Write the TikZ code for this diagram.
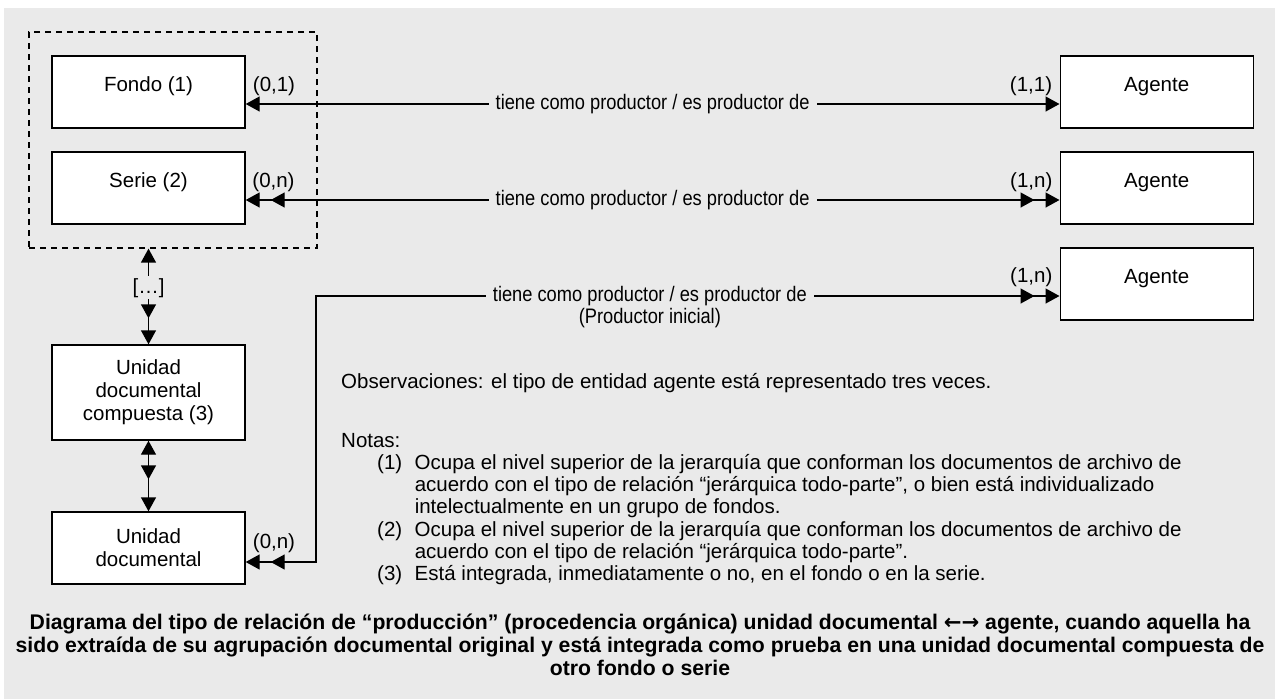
\documentclass[tikz,border=0pt]{standalone}
\usepackage{fontspec}
\setmainfont{Liberation Sans}
\newfontfamily\narrowfont[FakeStretch=0.87]{Liberation Sans}
\newfontfamily\arrowfont{DejaVu Sans}
\usetikzlibrary{arrows.meta,decorations.markings,positioning}
\definecolor{bggrey}{HTML}{EAEAEA}
\newcommand\fsbody{\fontsize{20.5}{23}\selectfont}
\newcommand\fsrel{\narrowfont\fontsize{21}{22}\selectfont}
\newcommand\fscap{\fontsize{21.2}{23}\selectfont\bfseries}
\newcommand\lift[1]{\raisebox{5.5pt}[\height][\depth]{#1}}
\tikzset{
  ah/.tip={Triangle[length=14pt,width=15pt]},
  box/.style={draw, fill=white, line width=1.4pt, minimum width=193pt, minimum height=72pt, inner sep=2pt, font=\fsbody, align=center},
  grpbox/.style={draw, dash pattern=on 6pt off 5pt, line width=1.3pt, minimum width=288pt, minimum height=216pt},
  link/.style={line width=1.4pt},
  rel/.style={fill=bggrey, inner xsep=7pt, inner ysep=1pt, font=\fsrel, align=center},
  card/.style={inner sep=1pt, font=\fsbody},
  dots/.style={fill=bggrey, inner xsep=1pt, inner ysep=2pt, font=\fsbody},
  dblend/.style={postaction={decorate, decoration={markings, mark=at position -#1 with {\arrow{ah}}}}},
  dblend/.default=25pt,
  dblstart/.style={postaction={decorate, decoration={markings, mark=at position #1 with {\arrowreversed{ah}}}}},
  dblstart/.default=25pt
}
\begin{document}
\begin{tikzpicture}[x=1pt, y=-1pt]
\useasboundingbox (0,0) rectangle (1275,699);
\fill[bggrey] (4,8) rectangle (1275,699);
% left column
\node[grpbox] (grp) at (173,140) {};
\node[box] (fondo) at (148.5,92) {\lift{Fondo (1)}};
\node[box] (serie) at (148.5,188) {\lift{Serie (2)}};
\node[box, minimum height=95pt] (comp) at (148.5,392.5) {Unidad\\documental\\compuesta (3)};
\node[box] (unid) at (148.5,548) {Unidad\\documental};
% agents
\foreach \i/\y in {1/92, 2/188, 3/284}
  \node[box] (ag\i) at (1156.7,\y) {\lift{Agente}};
% relations
\draw[link, ah-ah] ([yshift=-12pt]fondo.east) -- node[rel] (rel1) {tiene como productor / es productor de} ([yshift=-12pt]ag1.west);
\draw[link, ah-ah, dblstart, dblend] ([yshift=-12pt]serie.east) -- node[rel] (rel2) {tiene como productor / es productor de} ([yshift=-12pt]ag2.west);
\coordinate (turn) at (316,296);
\draw[link, ah-ah, dblstart, dblend] ([yshift=-14pt]unid.east) -| (turn)
  -- node[rel, pos=0.449, anchor=north, yshift=11pt] (rel3) {tiene como productor / es productor de\\(Productor inicial)} ([yshift=-12pt]ag3.west);
\draw[link, ah-ah, dblend=26pt] (comp.north |- grp.south) -- node[dots, pos=0.41] (etc) {[…]} (comp.north);
\draw[link, ah-ah, dblend=32pt] (comp.south) -- (unid.north);
% cardinalities
\foreach \n/\x/\y/\t in {c1/274/86/{(0,1)}, c2/273.5/182/{(0,n)}, c3/274/543.5/{(0,n)},
    c4/1031/86/{(1,1)}, c5/1031.3/182.5/{(1,n)}, c6/1031.3/277.5/{(1,n)}}
  \node[card] (\n) at (\x,\y) {\t};
% remarks
\node[anchor=base west, inner sep=0pt, font=\fsbody] (obs) at (341,388) {Observaciones: el tipo de entidad agente está representado tres veces.};
\node[anchor=base west, inner sep=0pt, font=\fsbody] (notas) at (341,447) {Notas:};
\node[anchor=north west, inner sep=0pt, font=\fontsize{20.5}{22.2}\selectfont] (notes) at (377,453.8) {%
  \begin{tabular}{@{}l@{\hspace{12.5pt}}l@{}}
  (1) & Ocupa el nivel superior de la jerarquía que conforman los documentos de archivo de\\
      & acuerdo con el tipo de relación “jerárquica todo-parte”, o bien está individualizado\\
      & intelectualmente en un grupo de fondos.\\
  (2) & Ocupa el nivel superior de la jerarquía que conforman los documentos de archivo de\\
      & acuerdo con el tipo de relación “jerárquica todo-parte”.\\
  (3) & Está integrada, inmediatamente o no, en el fondo o en la serie.
  \end{tabular}};
% caption
\node[font=\fscap, align=center] (cap) at (640,645) {Diagrama del tipo de relación de “producción” (procedencia orgánica) unidad documental {\arrowfont\bfseries ←→} agente, cuando aquella ha\\sido extraída de su agrupación documental original y está integrada como prueba en una unidad documental compuesta de\\otro fondo o serie};
\end{tikzpicture}
\end{document}
